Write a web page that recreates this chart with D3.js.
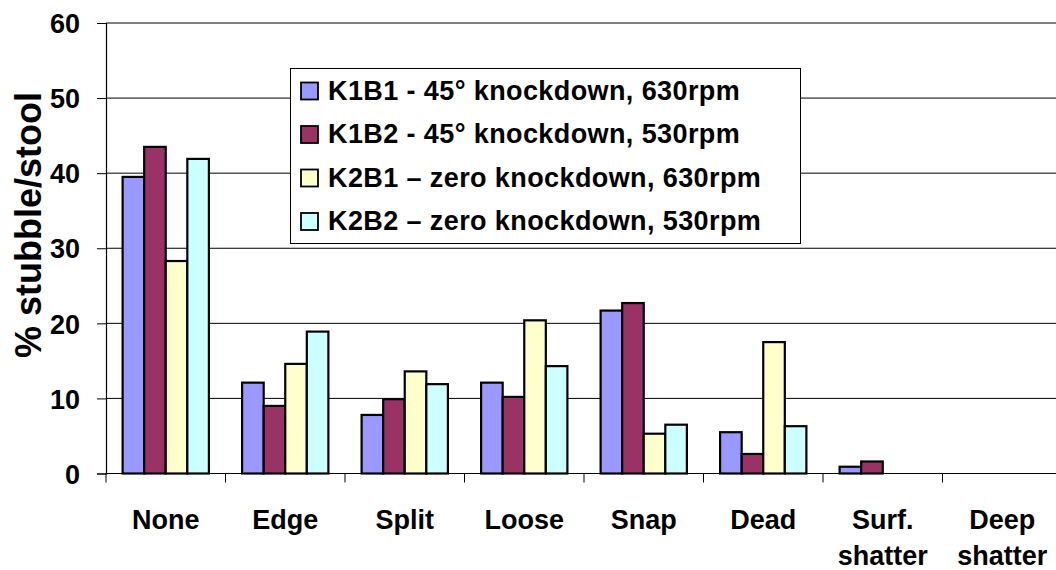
<!DOCTYPE html>
<html>
<head>
<meta charset="utf-8">
<script src="https://cdn.jsdelivr.net/npm/d3@7"></script>
<style>
  html, body { margin: 0; padding: 0; background: #fff; }
  svg { display: block; }
  text { font-family: "Liberation Sans", Arial, sans-serif; font-weight: bold; fill: #000; }
</style>
</head>
<body>
<svg id="chart" width="1056" height="570"></svg>
<script>
const categories = ["None", "Edge", "Split", "Loose", "Snap", "Dead", "Surf.\nshatter", "Deep\nshatter"];
const seriesNames = [
  "K1B1 - 45\u00b0 knockdown, 630rpm",
  "K1B2 - 45\u00b0 knockdown, 530rpm",
  "K2B1 \u2013 zero knockdown, 630rpm",
  "K2B2 \u2013 zero knockdown, 530rpm"
];
const seriesColors = ["#9999FF", "#993366", "#FFFFCC", "#CCFFFF"];
const K1B1 = [39.5, 12.1, 7.8, 12.1, 21.7, 5.5, 0.9, 0];
const K1B2 = [43.5, 9.0, 9.9, 10.2, 22.7, 2.6, 1.6, 0];
const K2B1 = [28.3, 14.6, 13.6, 20.4, 5.3, 17.5, 0, 0];
const K2B2 = [41.9, 18.9, 11.9, 14.3, 6.5, 6.3, 0, 0];
const yTicks = [0, 10, 20, 30, 40, 50, 60];
const yTitle = "% stubble/stool";

const seriesValues = [K1B1, K1B2, K2B1, K2B2];

const svg = d3.select("#chart");
const plotLeft = 106, plotRight = 1062, plotTop = 23, plotBottom = 473.5;

const x0 = d3.scaleBand().domain(categories).range([plotLeft, plotRight])
  .paddingInner(0.278).paddingOuter(0.139);
const x1 = d3.scaleBand().domain(d3.range(seriesNames.length)).range([0, x0.bandwidth()]);
const y = d3.scaleLinear().domain([0, 60]).range([plotBottom, plotTop]);

// gridlines
svg.append("g").selectAll("line").data(yTicks.filter(t => t > 0)).join("line")
  .attr("x1", plotLeft).attr("x2", plotRight)
  .attr("y1", d => y(d)).attr("y2", d => y(d))
  .attr("stroke", "#000").attr("stroke-width", 1);

// bars
const groups = svg.append("g").selectAll("g").data(categories).join("g")
  .attr("transform", c => `translate(${x0(c)},0)`);
groups.selectAll("rect").data((c, ci) => seriesValues.map((s, si) => ({si, v: s[ci]}))).join("rect")
  .attr("x", d => x1(d.si))
  .attr("width", x1.bandwidth())
  .attr("y", d => y(d.v))
  .attr("height", d => y(0) - y(d.v))
  .attr("fill", d => seriesColors[d.si])
  .attr("stroke", "#000").attr("stroke-width", 2.2);

// y axis
const yAxis = d3.axisLeft(y).tickValues(yTicks).tickSize(9).tickPadding(17);
const ya = svg.append("g").attr("transform", `translate(${plotLeft},0)`).call(yAxis);
ya.select(".domain").attr("stroke", "#000").attr("stroke-width", 1.2);
ya.selectAll(".tick line").attr("stroke", "#000");
ya.selectAll(".tick text").style("font-size", "27px").style("font-family", '"Liberation Sans", Arial, sans-serif')
  .style("font-weight", "bold").attr("fill", "#000").attr("dy", "0.36em");

// x axis line + boundary ticks
const boundaries = categories.map(c => x0(c) - x0.step() * x0.paddingInner() / 2);
const xa = svg.append("g");
xa.append("line").attr("x1", plotLeft).attr("x2", plotRight).attr("y1", y(0)).attr("y2", y(0))
  .attr("stroke", "#000").attr("stroke-width", 1.2);
xa.selectAll("line.tk").data(boundaries).join("line").attr("class", "tk")
  .attr("x1", d => d).attr("x2", d => d).attr("y1", y(0)).attr("y2", y(0) + 9)
  .attr("stroke", "#000");

// category labels
const lab = svg.append("g").selectAll("text").data(categories).join("text")
  .attr("x", c => x0(c) + x0.bandwidth() / 2)
  .attr("y", 529)
  .attr("text-anchor", "middle")
  .style("font-size", "27px");
lab.selectAll("tspan").data(c => c.split("\n")).join("tspan")
  .attr("x", function() { return d3.select(this.parentNode).attr("x"); })
  .attr("dy", (d, i) => i === 0 ? 0 : 36)
  .text(d => d);

// y title
svg.append("text")
  .attr("transform", `translate(41,225) rotate(-90)`)
  .attr("text-anchor", "middle")
  .style("font-size", "36px")
  .text(yTitle);

// legend
const lg = svg.append("g");
lg.append("rect").attr("x", 290.5).attr("y", 68.5).attr("width", 510).attr("height", 175)
  .attr("fill", "#fff").attr("stroke", "#000").attr("stroke-width", 1);
const items = lg.selectAll("g").data(seriesNames).join("g")
  .attr("transform", (d, i) => `translate(0,${99.5 + i * 43.5})`);
items.append("rect").attr("x", 301).attr("y", -17).attr("width", 17).attr("height", 17)
  .attr("fill", (d, i) => seriesColors[i]).attr("stroke", "#000").attr("stroke-width", 1.8);
items.append("text").attr("x", 328).attr("y", 0).style("font-size", "27px")
  .style("letter-spacing", "0.4px").text(d => d);
</script>
</body>
</html>
